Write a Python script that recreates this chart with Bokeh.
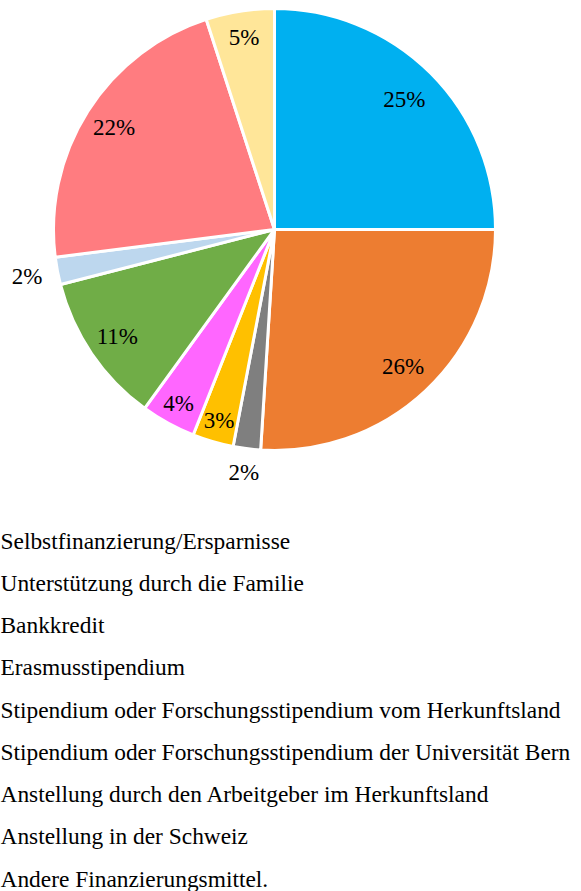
import math
from bokeh.plotting import figure
from bokeh.models import Range1d, ColumnDataSource
from bokeh.core.properties import value
from bokeh.embed import file_html
from bokeh.resources import INLINE

# ---- data ----
categories = [
    "Selbstfinanzierung/Ersparnisse",
    "Unterstützung durch die Familie",
    "Bankkredit",
    "Erasmusstipendium",
    "Stipendium oder Forschungsstipendium vom Herkunftsland",
    "Stipendium oder Forschungsstipendium der Universität Bern",
    "Anstellung durch den Arbeitgeber im Herkunftsland",
    "Anstellung in der Schweiz",
    "Andere Finanzierungsmittel.",
]
values = [25, 26, 2, 3, 4, 11, 2, 22, 5]

# ---- styles ----
colors = ["#00B0F0", "#ED7D31", "#7F7F7F", "#FFC000", "#FF66FF",
          "#70AD47", "#BDD7EE", "#FF7C80", "#FFE699"]
label_radius_factor = [0.83, 0.85, 1.11, 0.90, 0.90, 0.86, 1.14, 0.86, 0.88]

W, H = 581, 891
cx, cy, R = 274, H - 229, 221
FONT = "Liberation Serif"

p = figure(width=W, height=H, output_backend="svg", toolbar_location=None,
           x_range=Range1d(0, W), y_range=Range1d(0, H), min_border=0)
p.axis.visible = False
p.grid.visible = False
p.outline_line_color = None
p.background_fill_color = "white"

total = float(sum(values))
starts, ends, lx, ly, labels = [], [], [], [], []
cum = 0.0
for v, f in zip(values, label_radius_factor):
    a0 = math.pi / 2 - 2 * math.pi * cum / total
    a1 = math.pi / 2 - 2 * math.pi * (cum + v) / total
    starts.append(a1)
    ends.append(a0)
    mid = (a0 + a1) / 2
    lx.append(cx + f * R * math.cos(mid))
    ly.append(cy + f * R * math.sin(mid))
    labels.append(f"{round(100 * v / total)}%")
    cum += v

src = ColumnDataSource(dict(start=starts, end=ends, color=colors,
                            x=[cx] * len(values), y=[cy] * len(values)))
p.wedge(x="x", y="y", radius=R, radius_units="screen", start_angle="start",
        end_angle="end", fill_color="color", line_color="white", line_width=3,
        source=src)

p.text(x=lx, y=ly, text=labels, text_font=value(FONT), text_font_size="23px",
       text_align="center", text_baseline="middle", text_color="black")

# legend lines
leg_top = H - 540
leg_step = 42.25
p.text(x=[0] * len(categories),
       y=[leg_top - i * leg_step for i in range(len(categories))],
       text=categories, text_font=value(FONT), text_font_size="23.4px",
       text_align="left", text_baseline="middle", text_color="black")

open("out.html", "w").write(file_html(p, INLINE))
